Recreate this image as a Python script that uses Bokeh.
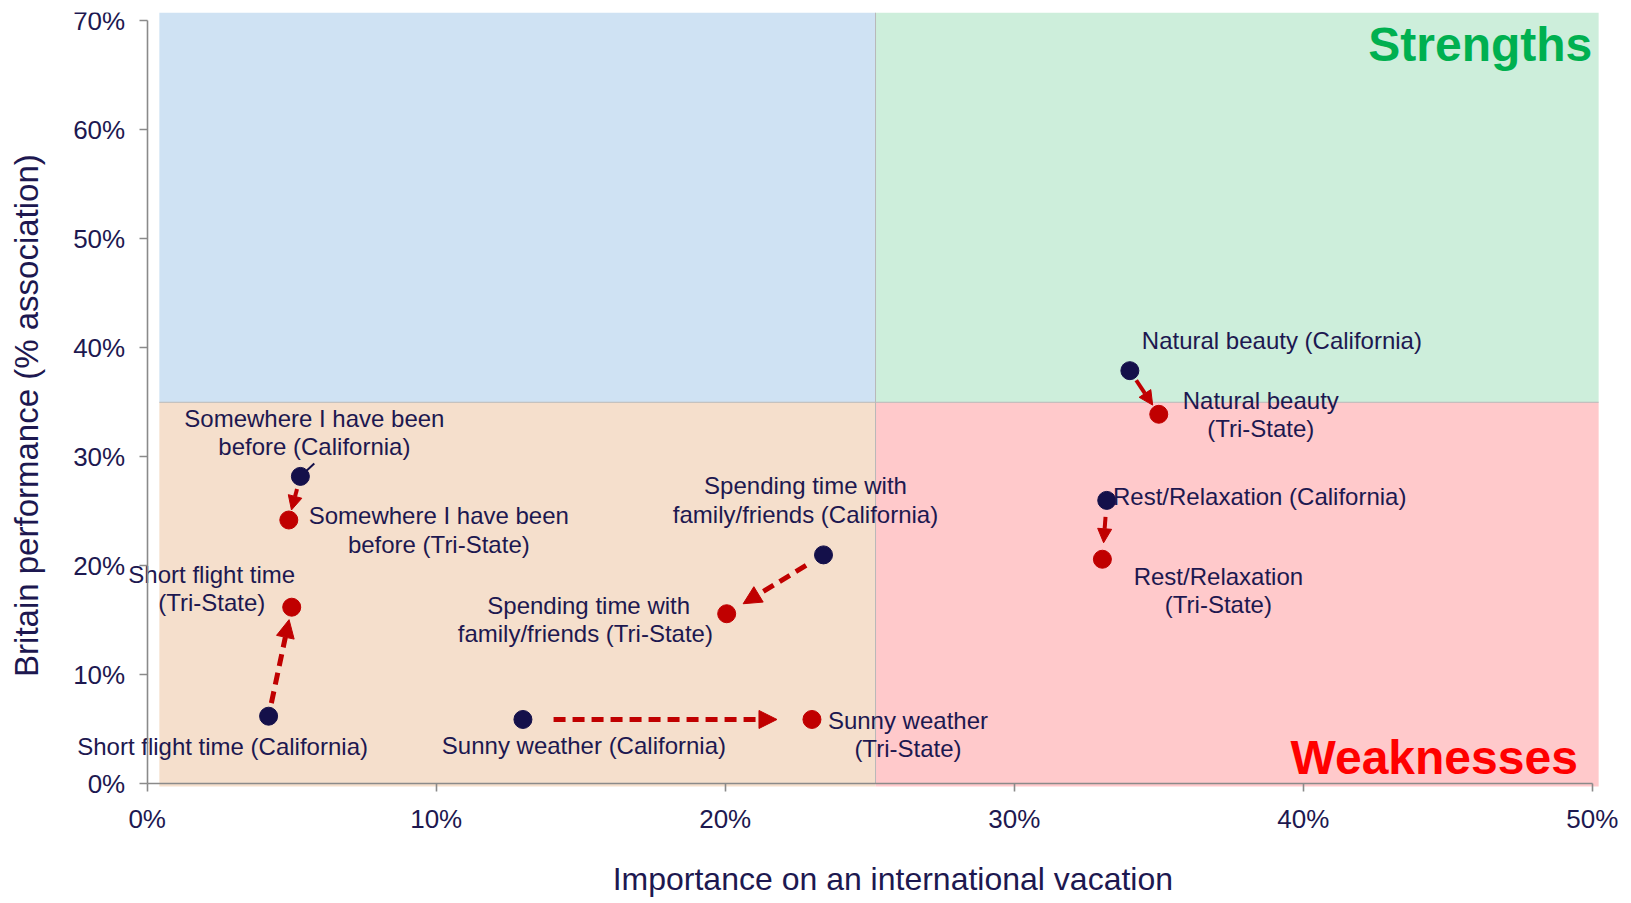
from bokeh.plotting import figure
from bokeh.models import (Range1d, FixedTicker, PrintfTickFormatter, ColumnDataSource,
                          Arrow, NormalHead, Label)
from bokeh.core.properties import value
from bokeh.embed import file_html
from bokeh.resources import INLINE

# ---------------- data ----------------
attributes = ["Short flight time", "Somewhere I have been before", "Sunny weather",
              "Spending time with family/friends", "Natural beauty", "Rest/Relaxation"]
california_importance = [4.2, 5.3, 13.0, 23.4, 34.0, 33.2]
california_performance = [6.2, 28.2, 5.9, 21.0, 37.9, 26.0]
tristate_importance = [5.0, 4.9, 23.0, 20.05, 35.0, 33.05]
tristate_performance = [16.2, 24.2, 5.9, 15.6, 33.9, 20.6]

california_labels = ["Short flight time (California)",
                     "Somewhere I have been\nbefore (California)",
                     "Sunny weather (California)",
                     "Spending time with\nfamily/friends (California)",
                     "Natural beauty (California)",
                     "Rest/Relaxation (California)"]
tristate_labels = ["Short flight time\n(Tri-State)",
                   "Somewhere I have been\nbefore (Tri-State)",
                   "Sunny weather\n(Tri-State)",
                   "Spending time with\nfamily/friends  (Tri-State)",
                   "Natural beauty\n(Tri-State)",
                   "Rest/Relaxation\n(Tri-State)"]

x_ticks = [0, 10, 20, 30, 40, 50]
y_ticks = [0, 10, 20, 30, 40, 50, 60, 70]
importance_threshold = 25.2
performance_threshold = 35
x_title = "Importance on an international vacation"
y_title = "Britain  performance (% association)"

# ---------------- styling ----------------
NAVY = "#14104a"
TEXT = "#1d1850"
RED = "#c00000"
FONT = "Liberation Sans"
X_MIN, X_MAX = -5.076, 51.08
Y_MIN, Y_MAX = -10.8, 70.76
QUAD_LEFT, QUAD_RIGHT = 0.42, 50.22

# label offsets in screen pixels (right, down)
cal_dx = [-46, 14, 61, -18, 152, 153]
cal_dy = [30, -44, 26, -55, -30, -4]
tri_dx = [-80, 150, 96, -138, 102, 116]
tri_dy = [-19, 10, 15, 6, 0, 31]
dashed = [True, False, True, True, False, False]
f_start = [0.12, 0.29, 0.106, 0.18, 0.22, 0.28]
f_end = [0.886, 0.77, 0.879, 0.83, 0.79, 0.72]

p = figure(width=1623, height=901, output_backend="svg", toolbar_location=None,
           x_range=Range1d(X_MIN, X_MAX), y_range=Range1d(Y_MIN, Y_MAX),
           min_border_left=0, min_border_right=0, min_border_top=12, min_border_bottom=0)
p.outline_line_color = None
p.grid.visible = False

# quadrants
p.quad(left=[QUAD_LEFT, importance_threshold, QUAD_LEFT, importance_threshold],
       right=[importance_threshold, QUAD_RIGHT, importance_threshold, QUAD_RIGHT],
       bottom=[performance_threshold, performance_threshold, -0.25, -0.25],
       top=[Y_MAX, Y_MAX, performance_threshold, performance_threshold],
       fill_color=["#cfe2f3", "#cdeedb", "#f5dfcc", "#ffc9cb"], line_color=None)
p.segment(x0=[importance_threshold, QUAD_LEFT], y0=[0, performance_threshold],
          x1=[importance_threshold, QUAD_RIGHT], y1=[Y_MAX, performance_threshold],
          line_color="#b8b8b8", line_width=1)

# arrows
for flag, dash, w, hs in [(True, "12 7", 5, 18), (False, "solid", 4, 14)]:
    idx = [i for i in range(len(attributes)) if dashed[i] == flag]
    src = ColumnDataSource(dict(
        xs=[california_importance[i] + f_start[i] * (tristate_importance[i] - california_importance[i]) for i in idx],
        ys=[california_performance[i] + f_start[i] * (tristate_performance[i] - california_performance[i]) for i in idx],
        xe=[california_importance[i] + f_end[i] * (tristate_importance[i] - california_importance[i]) for i in idx],
        ye=[california_performance[i] + f_end[i] * (tristate_performance[i] - california_performance[i]) for i in idx],
    ))
    p.add_layout(Arrow(source=src, x_start="xs", y_start="ys", x_end="xe", y_end="ye",
                       line_color=RED, line_width=w, line_dash=dash,
                       end=NormalHead(size=hs, fill_color=RED, line_color=RED, line_width=1)))

# leader line for "Somewhere I have been before (California)"
p.ray(x=[california_importance[1]], y=[california_performance[1]], length=19,
      length_units="screen", angle=43, angle_units="deg", line_color=NAVY, line_width=2)

src_c = ColumnDataSource(dict(x=california_importance, y=california_performance,
                              t=california_labels, dx=cal_dx, dy=cal_dy))
src_t = ColumnDataSource(dict(x=tristate_importance, y=tristate_performance,
                              t=tristate_labels, dx=tri_dx, dy=tri_dy))

p.scatter("x", "y", source=src_c, size=18, fill_color=NAVY, line_color=NAVY)
p.scatter("x", "y", source=src_t, size=18, fill_color=RED, line_color=RED)

for src in (src_c, src_t):
    p.text("x", "y", text="t", source=src, x_offset="dx", y_offset="dy",
           text_align="center", text_baseline="middle", text_font=value(FONT),
           text_font_size="24px", text_color=TEXT, text_line_height=1.05)

p.add_layout(Label(x=50.0, y=67.8, text="Strengths", text_align="right", text_baseline="middle",
                   text_font=FONT, text_font_size="48px", text_font_style="bold",
                   text_color="#00b050"))
p.add_layout(Label(x=49.5, y=2.42, text="Weaknesses", text_align="right", text_baseline="middle",
                   text_font=FONT, text_font_size="48px", text_font_style="bold",
                   text_color="#ff0000"))

# axis titles
p.add_layout(Label(x=25.8, y=-8.75, text=x_title, text_align="center", text_baseline="middle",
                   text_font=FONT, text_font_size="32px", text_color=TEXT))
p.add_layout(Label(x=-4.18, y=34.2, text=y_title, text_align="center", text_baseline="middle",
                   angle=90, angle_units="deg",
                   text_font=FONT, text_font_size="33px", text_color=TEXT))

# axes
p.xaxis.ticker = FixedTicker(ticks=x_ticks)
p.yaxis.ticker = FixedTicker(ticks=y_ticks)
p.xaxis.formatter = PrintfTickFormatter(format="%d%%")
p.yaxis.formatter = PrintfTickFormatter(format="%d%%")
p.xaxis.bounds = (0, 50)
p.yaxis.bounds = (0, 70)
p.xaxis.fixed_location = 0
p.yaxis.fixed_location = 0
for ax in (p.xaxis[0], p.yaxis[0]):
    ax.axis_line_color = "#8a8a8a"
    ax.axis_line_width = 1.6
    ax.major_tick_line_color = "#8a8a8a"
    ax.major_tick_line_width = 1.6
    ax.major_tick_out = 8
    ax.major_tick_in = 0
    ax.minor_tick_line_color = None
    ax.major_label_text_font = FONT
    ax.major_label_text_font_size = "26px"
    ax.major_label_text_color = TEXT
p.xaxis.major_label_standoff = 12
p.yaxis.major_label_standoff = 14

open("out.html", "w").write(file_html(p, INLINE))
